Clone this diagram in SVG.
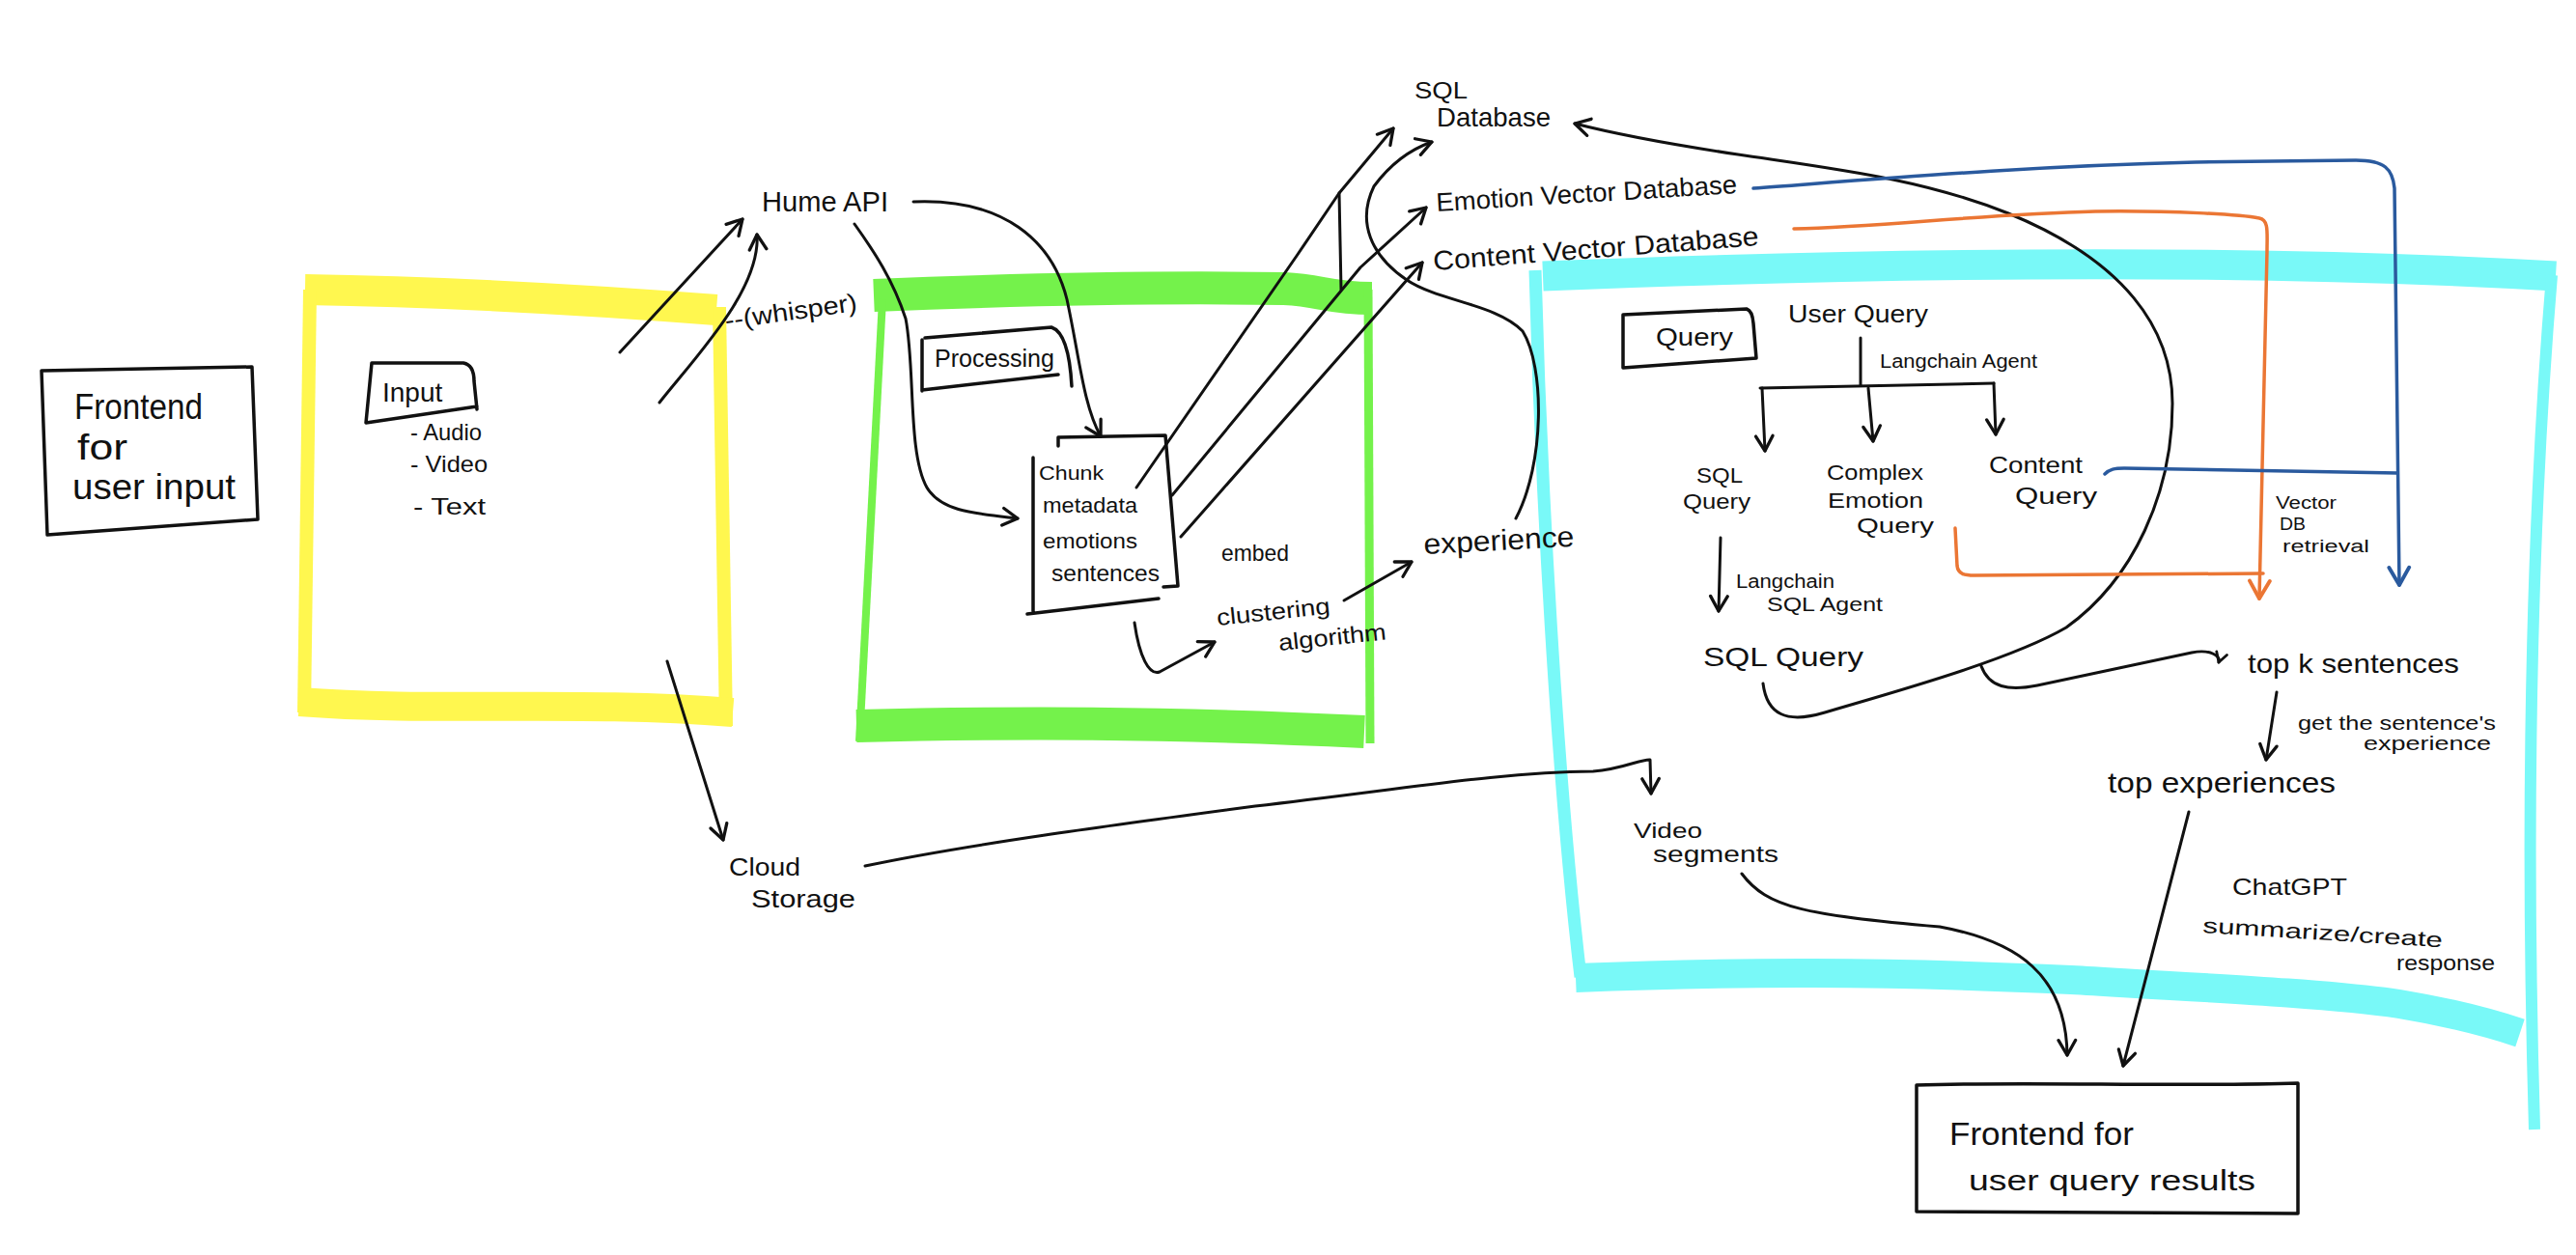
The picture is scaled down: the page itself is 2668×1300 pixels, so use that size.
<svg xmlns="http://www.w3.org/2000/svg" width="2668" height="1300" viewBox="0 0 2668 1300">
<style>
.t{font-family:"Liberation Sans",Arial,sans-serif;fill:#111;}
.ln{fill:none;stroke:#111;stroke-width:3;stroke-linecap:round;stroke-linejoin:round;}
.bx{fill:none;stroke:#111;stroke-width:3.5;stroke-linecap:round;stroke-linejoin:round;}
.ar{marker-end:url(#ah);}
.or{fill:none;stroke:#eb7634;stroke-width:3.5;stroke-linecap:round;stroke-linejoin:round;}
.bl{fill:none;stroke:#2a5a9e;stroke-width:3.5;stroke-linecap:round;stroke-linejoin:round;}
.ye{fill:none;stroke:#fff74f;}
.gr{fill:none;stroke:#74f24b;}
.cy{fill:none;stroke:#79f9f8;}
</style>
<defs>
<marker id="ah" viewBox="0 0 20 20" refX="17" refY="10" markerWidth="22" markerHeight="22" markerUnits="userSpaceOnUse" orient="auto"><path d="M3,2 L17,10 L3,18" fill="none" stroke="#111" stroke-width="3" stroke-linecap="round" stroke-linejoin="round"/></marker>
<marker id="ahs" viewBox="0 0 20 20" refX="17" refY="10" markerWidth="14" markerHeight="14" markerUnits="userSpaceOnUse" orient="auto"><path d="M3,2 L17,10 L3,18" fill="none" stroke="#111" stroke-width="4" stroke-linecap="round" stroke-linejoin="round"/></marker>
<marker id="aho" viewBox="0 0 20 20" refX="17" refY="10" markerWidth="26" markerHeight="26" markerUnits="userSpaceOnUse" orient="auto"><path d="M3,2 L17,10 L3,18" fill="none" stroke="#eb7634" stroke-width="3" stroke-linecap="round" stroke-linejoin="round"/></marker>
<marker id="ahb" viewBox="0 0 20 20" refX="17" refY="10" markerWidth="26" markerHeight="26" markerUnits="userSpaceOnUse" orient="auto"><path d="M3,2 L17,10 L3,18" fill="none" stroke="#2a5a9e" stroke-width="3" stroke-linecap="round" stroke-linejoin="round"/></marker>
</defs>
<rect width="2668" height="1300" fill="#ffffff"/>

<!-- stage frames -->
<g id="input-stage">
<path class="ye" stroke-width="32" d="M316,300 C450,302 600,310 742,321"/>
<path class="ye" stroke-width="14" d="M321,300 L315,738"/>
<path class="ye" stroke-width="14" d="M745,318 L752,752"/>
<path class="ye" stroke-width="30" d="M310,727 C450,738 600,725 759,738"/>
<path class="bx" d="M385,376 L480,376 Q491,378 491,395 L494,424 M385,376 L379,438 L494,421"/>
<text class="t" x="396" y="416" font-size="28">Input</text>
<text class="t" x="425" y="456" font-size="24" textLength="74" lengthAdjust="spacingAndGlyphs">- Audio</text>
<text class="t" x="425" y="489" font-size="24" textLength="80" lengthAdjust="spacingAndGlyphs">- Video</text>
<text class="t" x="428" y="533" font-size="24" textLength="75" lengthAdjust="spacingAndGlyphs">- Text</text>
</g>

<g id="processing-stage">
<path class="gr" stroke-width="34" d="M905,306 C1050,300 1200,297 1330,299 C1370,301 1375,309 1421,309"/>
<path class="gr" stroke-width="8" d="M914,310 L890,768"/>
<path class="gr" stroke-width="9" d="M1417,300 L1419,770"/>
<path class="gr" stroke-width="34" d="M887,752 C1050,748 1200,748 1413,758"/>
<path class="bx" d="M955,352 L955,405 M958,350 L1089,339 Q1107,345 1110,400 M955,404 L1096,388"/>
<text class="t" x="968" y="380" font-size="25" textLength="124" lengthAdjust="spacingAndGlyphs">Processing</text>
</g>

<g id="query-stage">
<path class="cy" stroke-width="31" d="M1598,286 C1900,274 2300,266 2647,286"/>
<path class="cy" stroke-width="13" d="M1590,280 C1596,500 1612,800 1637,1012"/>
<path class="cy" stroke-width="12" d="M2643,285 C2625,500 2614,800 2625,1170"/>
<path class="cy" stroke-width="30" d="M1632,1013 C1800,1006 1950,1006 2145,1015 C2300,1024 2420,1030 2485,1040 C2545,1050 2580,1060 2610,1070"/>
<path class="bx" d="M1681,326 L1809,320 Q1815,322 1816,335 L1819,371 M1681,326 L1681,381 L1819,371"/>
<text class="t" x="1715" y="358" font-size="26" textLength="80" lengthAdjust="spacingAndGlyphs">Query</text>
</g>

<!-- nodes -->
<g id="frontend-input">
<path class="bx" d="M43,384 L261,380 L267,538 L49,554 Z"/>
<text class="t" x="77" y="434" font-size="36" textLength="133" lengthAdjust="spacingAndGlyphs">Frontend</text>
<text class="t" x="80" y="476" font-size="36" textLength="52" lengthAdjust="spacingAndGlyphs">for</text>
<text class="t" x="75" y="517" font-size="36" textLength="169" lengthAdjust="spacingAndGlyphs">user input</text>
</g>

<g id="hume-api">
<text class="t" x="789" y="219" font-size="30" textLength="131" lengthAdjust="spacingAndGlyphs">Hume API</text>
</g>

<g id="chunk">
<path class="bx" d="M1096,462 L1096,453 L1207,451 L1220,607 L1205,608 M1070,474 L1070,633 M1064,636 L1200,620"/>
<text class="t" x="1076" y="497" font-size="20" textLength="67" lengthAdjust="spacingAndGlyphs">Chunk</text>
<text class="t" x="1080" y="531" font-size="22" textLength="98" lengthAdjust="spacingAndGlyphs">metadata</text>
<text class="t" x="1080" y="568" font-size="22" textLength="98" lengthAdjust="spacingAndGlyphs">emotions</text>
<text class="t" x="1089" y="602" font-size="24" textLength="112" lengthAdjust="spacingAndGlyphs">sentences</text>
</g>

<g id="clustering">
<text class="t" font-size="24" textLength="118" lengthAdjust="spacingAndGlyphs" transform="translate(1261,648) rotate(-6)">clustering</text>
<text class="t" font-size="24" textLength="112" lengthAdjust="spacingAndGlyphs" transform="translate(1325,674) rotate(-6)">algorithm</text>
</g>

<g id="experience">
<text class="t" font-size="30" textLength="156" lengthAdjust="spacingAndGlyphs" transform="translate(1475,574) rotate(-3)">experience</text>
</g>

<g id="sql-database">
<text class="t" x="1465" y="102" font-size="24" textLength="55" lengthAdjust="spacingAndGlyphs">SQL</text>
<text class="t" x="1488" y="131" font-size="28" textLength="118" lengthAdjust="spacingAndGlyphs">Database</text>
</g>

<g id="emotion-vector-db">
<text class="t" font-size="27" textLength="312" lengthAdjust="spacingAndGlyphs" transform="translate(1488,219) rotate(-3.5)">Emotion Vector Database</text>
</g>

<g id="content-vector-db">
<text class="t" font-size="28" textLength="338" lengthAdjust="spacingAndGlyphs" transform="translate(1485,280) rotate(-4.4)">Content Vector Database</text>
</g>

<g id="cloud-storage">
<text class="t" x="755" y="907" font-size="26" textLength="74" lengthAdjust="spacingAndGlyphs">Cloud</text>
<text class="t" x="778" y="940" font-size="26" textLength="108" lengthAdjust="spacingAndGlyphs">Storage</text>
</g>

<g id="user-query">
<text class="t" x="1852" y="334" font-size="25" textLength="145" lengthAdjust="spacingAndGlyphs">User Query</text>
</g>

<g id="sql-query-type">
<text class="t" x="1757" y="500" font-size="22" textLength="48" lengthAdjust="spacingAndGlyphs">SQL</text>
<text class="t" x="1743" y="527" font-size="22" textLength="70" lengthAdjust="spacingAndGlyphs">Query</text>
</g>

<g id="complex-emotion-query">
<text class="t" x="1892" y="497" font-size="22" textLength="100" lengthAdjust="spacingAndGlyphs">Complex</text>
<text class="t" x="1893" y="526" font-size="22" textLength="99" lengthAdjust="spacingAndGlyphs">Emotion</text>
<text class="t" x="1923" y="552" font-size="22" textLength="80" lengthAdjust="spacingAndGlyphs">Query</text>
</g>

<g id="content-query">
<text class="t" x="2060" y="490" font-size="24" textLength="97" lengthAdjust="spacingAndGlyphs">Content</text>
<text class="t" x="2087" y="522" font-size="24" textLength="85" lengthAdjust="spacingAndGlyphs">Query</text>
</g>

<g id="sql-query">
<text class="t" x="1764" y="690" font-size="28" textLength="166" lengthAdjust="spacingAndGlyphs">SQL Query</text>
</g>

<g id="top-k-sentences">
<text class="t" x="2328" y="697" font-size="28" textLength="219" lengthAdjust="spacingAndGlyphs">top k sentences</text>
</g>

<g id="top-experiences">
<text class="t" x="2183" y="821" font-size="30" textLength="236" lengthAdjust="spacingAndGlyphs">top experiences</text>
</g>

<g id="video-segments">
<text class="t" x="1692" y="868" font-size="22" textLength="71" lengthAdjust="spacingAndGlyphs">Video</text>
<text class="t" x="1712" y="893" font-size="24" textLength="130" lengthAdjust="spacingAndGlyphs">segments</text>
</g>

<g id="frontend-results">
<path class="bx" d="M1985,1124 C2100,1120 2250,1126 2380,1122 L2380,1257 L1985,1255 Z"/>
<text class="t" x="2019" y="1186" font-size="34" textLength="191" lengthAdjust="spacingAndGlyphs">Frontend for</text>
<text class="t" x="2039" y="1233" font-size="30" textLength="297" lengthAdjust="spacingAndGlyphs">user query results</text>
</g>

<!-- connectors -->
<g id="connectors">
<path class="ln ar" d="M642,365 L769,227"/>
<path class="ln ar" d="M683,417 C720,370 788,300 784,243"/>
<path class="ln ar" d="M946,209 C1040,205 1090,250 1105,310 C1118,370 1122,420 1140,452"/>
<path class="ln ar" d="M885,232 C905,260 925,290 938,330 C948,380 940,470 960,505 C975,530 1010,532 1054,537"/>
<path class="ln ar" d="M1177,505 L1343,265 L1387,200 L1443,133"/>
<path class="ln" d="M1387,200 L1389,300"/>
<path class="ln ar" d="M1214,513 L1409,277 L1477,215"/>
<path class="ln ar" d="M1223,556 L1473,272"/>
<path class="ln ar" d="M1570,537 C1600,480 1600,380 1577,343 C1550,315 1490,312 1457,290 C1420,265 1405,230 1423,193 C1440,170 1460,155 1483,147"/>
<path class="ln ar" d="M1175,645 C1180,680 1190,700 1201,696 L1258,665"/>
<path class="ln ar" d="M1392,622 L1462,582"/>
<path class="ln ar" d="M691,685 L749,870"/>
<path class="ln ar" d="M896,897 C1000,875 1150,855 1300,835 C1450,818 1550,800 1650,799 C1680,797 1700,786 1709,787 L1710,822"/>
<path class="ln ar" d="M1804,905 C1830,940 1870,948 2009,960 C2090,975 2140,1010 2141,1093"/>
<path class="ln ar" d="M2267,841 L2237,957 L2199,1104"/>
<path class="ln" d="M1927,350 L1927,398 M1823,402 L2065,397"/>
<path class="ln ar" d="M1825,402 L1828,467"/>
<path class="ln ar" d="M1935,402 L1940,457"/>
<path class="ln ar" d="M2065,397 L2067,450"/>
<path class="ln ar" d="M1782,557 L1780,633"/>
<path class="ln ar" d="M1826,708 C1830,740 1850,750 1890,738 C1950,720 2080,685 2140,650 C2210,600 2250,510 2250,418 C2250,340 2200,270 2080,221 C1990,185 1900,175 1800,160 C1720,148 1670,138 1631,128"/>
<path class="ln" d="M2052,690 C2060,712 2080,716 2110,710 L2270,676 C2290,672 2300,680 2298,686" marker-end="url(#ahs)"/>
<path class="ln ar" d="M2358,717 L2347,787"/>
<path class="or" d="M1858,237 C1950,235 2050,222 2170,219 C2250,218 2320,222 2340,226 C2350,228 2348,240 2348,260 L2340,620" marker-end="url(#aho)"/>
<path class="or" d="M2025,547 L2027,586 C2028,595 2035,596 2045,596 L2344,594"/>
<path class="bl" d="M1816,195 C1950,185 2100,172 2274,168 L2440,166 C2470,166 2478,175 2480,195 L2485,606" marker-end="url(#ahb)"/>
<path class="bl" d="M2180,491 C2185,486 2190,485 2200,485 L2483,490"/>
<text class="t" font-size="26" textLength="138" lengthAdjust="spacingAndGlyphs" transform="translate(752,341) rotate(-8)">--(whisper)</text>
<text class="t" x="1265" y="581" font-size="24" textLength="70" lengthAdjust="spacingAndGlyphs">embed</text>
<text class="t" x="1947" y="381" font-size="20" textLength="163" lengthAdjust="spacingAndGlyphs">Langchain Agent</text>
<text class="t" x="1798" y="609" font-size="20" textLength="102" lengthAdjust="spacingAndGlyphs">Langchain</text>
<text class="t" x="1830" y="633" font-size="20" textLength="120" lengthAdjust="spacingAndGlyphs">SQL Agent</text>
<text class="t" x="2357" y="527" font-size="18" textLength="63" lengthAdjust="spacingAndGlyphs">Vector</text>
<text class="t" x="2361" y="549" font-size="18" textLength="27" lengthAdjust="spacingAndGlyphs">DB</text>
<text class="t" x="2364" y="572" font-size="18" textLength="90" lengthAdjust="spacingAndGlyphs">retrieval</text>
<text class="t" x="2380" y="756" font-size="20" textLength="205" lengthAdjust="spacingAndGlyphs">get the sentence's</text>
<text class="t" x="2448" y="777" font-size="20" textLength="132" lengthAdjust="spacingAndGlyphs">experience</text>
<text class="t" x="2312" y="927" font-size="24" textLength="119" lengthAdjust="spacingAndGlyphs">ChatGPT</text>
<text class="t" font-size="22" textLength="249" lengthAdjust="spacingAndGlyphs" transform="translate(2281,966) rotate(3.5)">summarize/create</text>
<text class="t" x="2482" y="1005" font-size="22" textLength="102" lengthAdjust="spacingAndGlyphs">response</text>
</g>
</svg>
